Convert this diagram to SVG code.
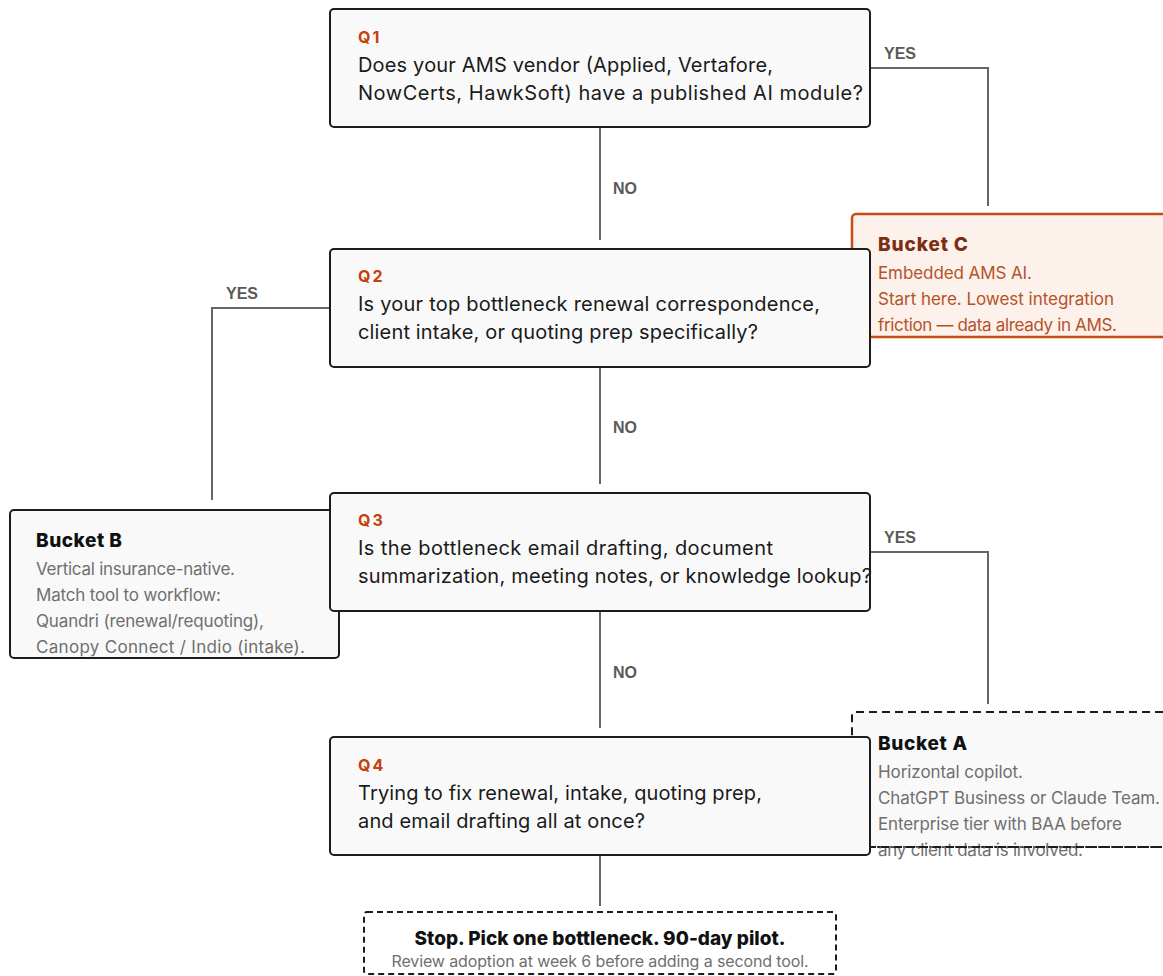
<svg xmlns="http://www.w3.org/2000/svg" width="1163" height="976" viewBox="0 0 1163 976">
<style>
.q{fill:#f9f9f9;stroke:#1c1c1c;stroke-width:2}
.ql{font-family:Inter,"Liberation Sans",sans-serif;font-weight:700;font-size:16px;fill:#c2410c;letter-spacing:2px}
.qt{font-family:Inter,"Liberation Sans",sans-serif;font-size:20px;fill:#1a1a1a}
.bt{font-family:Inter,"Liberation Sans",sans-serif;font-weight:800;font-size:19px;fill:#111}
.bd{font-family:Inter,"Liberation Sans",sans-serif;font-size:17px;fill:#6f6f6f}
.cn{fill:none;stroke:#666;stroke-width:2}
.lb{font-family:"Liberation Sans",Arial,sans-serif;font-weight:700;font-size:16px;fill:#5a5a5a}
</style>
<g id="connectors">
<path class="cn" d="M600 127V240"/>
<path class="cn" d="M870 68H988V206"/>
<path class="cn" d="M330 308H212V500"/>
<path class="cn" d="M600 367V484"/>
<path class="cn" d="M870 552H988V704"/>
<path class="cn" d="M600 611V728"/>
<path class="cn" d="M600 855V906"/>
<text class="lb" x="613" y="194">NO</text>
<text class="lb" x="884" y="59">YES</text>
<text class="lb" x="226" y="299">YES</text>
<text class="lb" x="613" y="433">NO</text>
<text class="lb" x="884" y="543">YES</text>
<text class="lb" x="613" y="678">NO</text>
</g>
<g id="bucketC">
<rect x="852" y="214" width="330" height="123" rx="4" fill="#fdf1eb" stroke="#c84a14" stroke-width="2.5"/>
<text class="bt" x="878" y="251" textLength="90" style="fill:#7c2d12">Bucket C</text>
<text class="bd" x="878" y="279" textLength="154" style="fill:#b4532a">Embedded AMS AI.</text>
<text class="bd" x="878" y="305" textLength="236" style="fill:#b4532a">Start here. Lowest integration</text>
<text class="bd" x="878" y="331" textLength="239" style="fill:#b4532a">friction — data already in AMS.</text>
</g>
<g id="q1">
<rect class="q" x="330" y="9" width="540" height="118" rx="4"/>
<text class="ql" x="358" y="43">Q1</text>
<text class="qt" x="358" y="72" textLength="415">Does your AMS vendor (Applied, Vertafore,</text>
<text class="qt" x="358" y="100" textLength="505">NowCerts, HawkSoft) have a published AI module?</text>
</g>
<g id="q2">
<rect class="q" x="330" y="249" width="540" height="118" rx="4"/>
<text class="ql" x="358" y="282">Q2</text>
<text class="qt" x="358" y="311" textLength="462">Is your top bottleneck renewal correspondence,</text>
<text class="qt" x="358" y="339" textLength="400">client intake, or quoting prep specifically?</text>
</g>
<g id="bucketB">
<rect class="q" x="10" y="510" width="329" height="148" rx="4"/>
<text class="bt" x="36" y="547" textLength="86">Bucket B</text>
<text class="bd" x="36" y="575" textLength="199">Vertical insurance-native.</text>
<text class="bd" x="36" y="601" textLength="185">Match tool to workflow:</text>
<text class="bd" x="36" y="627" textLength="228">Quandri (renewal/requoting),</text>
<text class="bd" x="36" y="653" textLength="269">Canopy Connect / Indio (intake).</text>
</g>
<g id="q3">
<rect class="q" x="330" y="493" width="540" height="118" rx="4"/>
<text class="ql" x="358" y="526">Q3</text>
<text class="qt" x="358" y="555" textLength="415">Is the bottleneck email drafting, document</text>
<text class="qt" x="358" y="583" textLength="514">summarization, meeting notes, or knowledge lookup?</text>
</g>
<g id="bucketA">
<rect x="852" y="712" width="330" height="135" rx="4" fill="#f9f9f9" stroke="#1c1c1c" stroke-width="2" stroke-dasharray="8 5"/>
<text class="bt" x="878" y="750" textLength="89">Bucket A</text>
<text class="bd" x="878" y="778" textLength="145">Horizontal copilot.</text>
<text class="bd" x="878" y="804" textLength="282">ChatGPT Business or Claude Team.</text>
<text class="bd" x="878" y="830" textLength="244">Enterprise tier with BAA before</text>
<text class="bd" x="878" y="856" textLength="205">any client data is involved.</text>
<path d="M868 847H1163" fill="none" stroke="#1c1c1c" stroke-width="2" stroke-dasharray="8 5"/>
</g>
<g id="q4">
<rect class="q" x="330" y="737" width="540" height="118" rx="4"/>
<text class="ql" x="358" y="771">Q4</text>
<text class="qt" x="358" y="800" textLength="404">Trying to fix renewal, intake, quoting prep,</text>
<text class="qt" x="358" y="828" textLength="287">and email drafting all at once?</text>
</g>
<g id="stop">
<rect x="364" y="912" width="472" height="62" rx="3" fill="#fff" stroke="#1c1c1c" stroke-width="2" stroke-dasharray="6 4"/>
<text x="600" y="945" text-anchor="middle" textLength="371" style="font-family:Inter,'Liberation Sans',sans-serif;font-weight:800;font-size:19px;fill:#111">Stop. Pick one bottleneck. 90-day pilot.</text>
<text x="600" y="967" text-anchor="middle" textLength="417" style="font-family:Inter,'Liberation Sans',sans-serif;font-size:16px;fill:#6f6f6f">Review adoption at week 6 before adding a second tool.</text>
</g>
</svg>
